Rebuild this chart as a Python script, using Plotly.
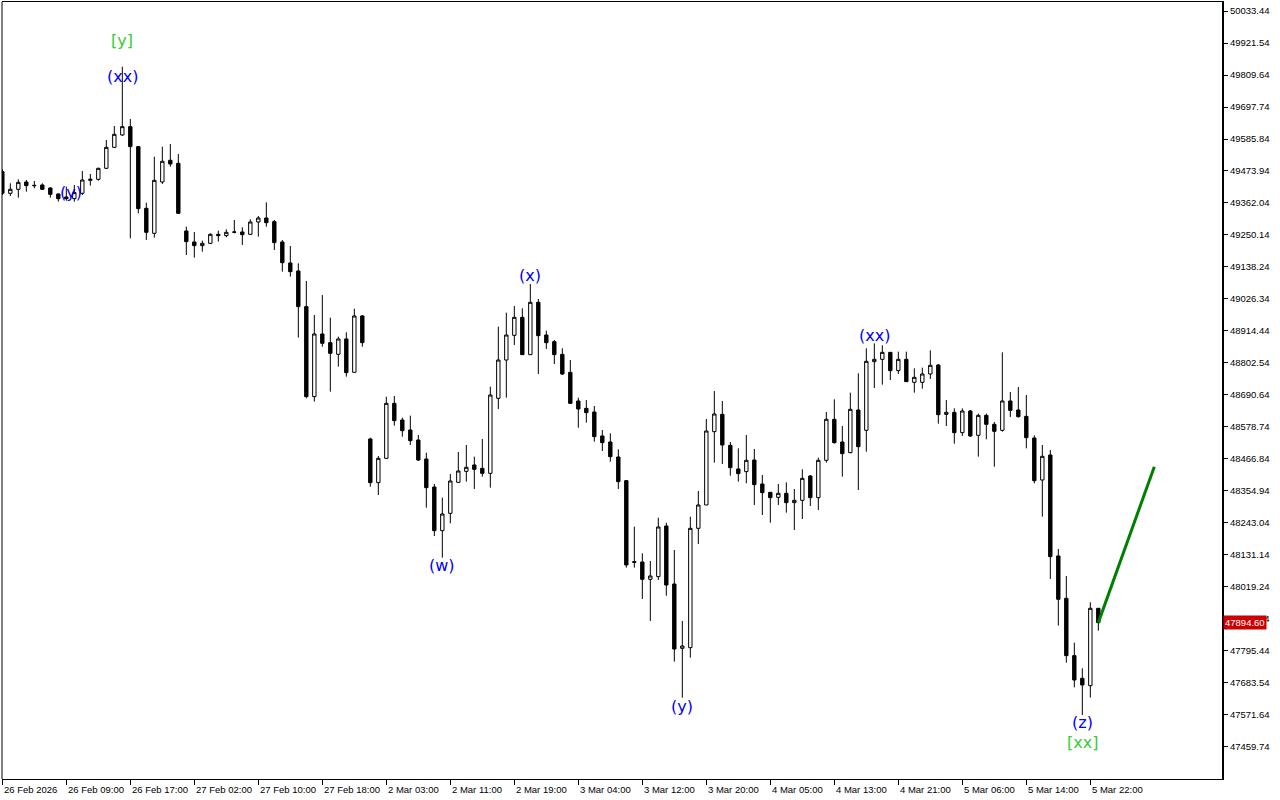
import plotly.graph_objects as go

# ---- data (hourly candles, index-based gapless axis) ----
opens = [49471.7,49395.9,49409.9,49435.5,49423.9,49425.0,49414.5,49393.6,49383.1,49377.2,
         49395.9,49441.3,49444.8,49483.3,49556.7,49599.9,49629.0,49559.1,49343.4,49256.0,
         49435.5,49511.3,49500.8,49264.2,49225.7,49212.9,49221.0,49252.5,49247.9,49259.5,
         49260.7,49252.5,49295.6,49309.6,49296.8,49225.7,49152.3,49124.3,48999.6,48684.9,
         48904.0,48873.7,48832.9,48886.5,48770.0,48967.0,48536.8,48384.1,48469.2,48661.5,
         48603.2,48568.2,48533.3,48466.8,48368.9,48216.2,48276.8,48385.2,48423.7,48445.9,
         48434.2,48416.7,48679.0,48813.0,48899.3,48962.2,48831.7,49014.7,48900.4,48877.1,
         48832.8,48769.9,48669.7,48644.0,48631.2,48547.3,48526.3,48473.8,48391.1,48107.8,
         48106.7,48046.1,48055.4,48232.6,48029.7,47804.8,47807.1,48224.4,48306.0,48562.4,
         48623.0,48514.6,48431.9,48422.6,48463.3,48379.4,48350.3,48332.8,48346.8,48314.2,
         48322.3,48407.4,48331.6,48462.2,48605.6,48526.3,48489.0,48638.2,48567.1,48807.2,
         48815.4,48839.8,48775.7,48815.4,48734.9,48734.9,48764.1,48795.5,48623.0,48630.0,
         48558.9,48634.7,48549.6,48619.5,48588.1,48567.1,48669.7,48638.2,48616.0,48540.3,
         48393.4,48480.9,48127.7,47979.7,47779.2,47699.9,47674.3,47944.7]
highs = [49480.0,49430.9,49444.8,49442.5,49439.0,49430.9,49416.9,49395.9,49419.2,49425.0,
         49474.0,49463.5,49485.6,49582.4,49631.3,49838.8,49655.8,49561.4,49363.3,49524.1,
         49559.1,49568.4,49533.4,49279.3,49260.7,49230.4,49256.0,49265.3,49270.0,49302.6,
         49277.0,49305.0,49316.6,49364.4,49302.6,49232.7,49211.7,49151.1,49089.3,48970.4,
         49040.4,48961.1,48894.7,48909.8,48992.6,48970.4,48541.4,48477.3,48684.8,48687.1,
         48611.4,48618.4,48550.8,48489.0,48379.4,48331.6,48414.4,48491.3,48515.8,48475.0,
         48536.8,48719.8,48929.6,48978.5,49001.8,48993.7,49078.8,49026.3,48915.6,48883.0,
         48853.8,48813.0,48681.3,48673.1,48652.2,48568.2,48556.6,48500.6,48393.4,48230.2,
         48137.0,48110.2,48261.7,48244.2,48148.6,47900.4,48265.2,48354.9,48606.7,48704.6,
         48669.7,48526.3,48504.1,48550.8,48501.8,48410.9,48350.3,48379.4,48385.3,48361.9,
         48430.7,48410.9,48471.5,48631.2,48675.5,48582.2,48698.8,48766.4,48853.8,48871.3,
         48864.3,48839.8,48842.2,48842.2,48783.9,48786.2,48846.8,48799.0,48673.2,48644.0,
         48644.0,48638.2,48625.4,48625.4,48596.2,48839.8,48701.1,48718.6,48690.6,48549.6,
         48515.8,48498.4,48152.2,48057.8,47824.6,47734.9,47965.7,47944.7]
lows = [49390.0,49386.6,49380.7,49401.7,49413.4,49407.5,49380.7,49366.7,49370.2,49366.7,
        49390.0,49422.7,49440.2,49481.0,49554.4,49596.4,49238.5,49326.0,49232.7,49240.9,
        49428.5,49489.1,49323.6,49180.2,49170.9,49191.9,49218.7,49226.9,49242.0,49256.0,
        49215.2,49250.2,49244.4,49279.3,49197.7,49122.0,49104.5,48891.2,48679.0,48667.4,
        48859.7,48702.3,48789.8,48754.8,48770.0,48859.7,48370.1,48340.9,48466.8,48583.4,
        48544.9,48515.8,48459.8,48296.7,48197.6,48121.8,48241.9,48384.1,48387.6,48361.9,
        48405.1,48366.6,48641.7,48681.3,48865.5,48831.7,48831.7,48764.1,48851.5,48799.0,
        48760.6,48659.2,48576.4,48593.9,48527.4,48494.8,48457.5,48361.9,48086.9,48086.9,
        47977.3,47900.4,48043.7,47988.9,47758.2,47632.3,47772.1,48169.6,48306.0,48454.0,
        48449.4,48408.6,48387.6,48381.8,48306.0,48271.0,48244.2,48306.0,48279.2,48218.6,
        48257.0,48302.5,48288.5,48454.0,48520.5,48405.1,48486.7,48358.4,48492.5,48715.1,
        48726.8,48743.1,48764.1,48737.3,48698.8,48712.8,48746.6,48590.4,48582.2,48520.5,
        48547.3,48543.8,48475.0,48535.6,48440.0,48562.4,48613.7,48611.4,48504.1,48381.8,
        48265.2,48047.3,47884.1,47754.7,47668.4,47571.7,47632.3,47866.6]
closes = [49395.9,49409.9,49434.3,49422.7,49422.7,49409.9,49392.4,49377.2,49377.2,49398.2,
          49442.5,49444.8,49483.3,49556.7,49602.2,49629.0,49559.1,49342.3,49259.5,49441.3,
          49507.8,49498.5,49326.0,49226.9,49212.9,49221.0,49252.5,49247.9,49259.5,49260.7,
          49251.3,49295.6,49309.6,49293.3,49223.4,49153.4,49122.0,48999.6,48684.9,48904.0,
          48871.4,48836.4,48886.5,48768.8,48967.0,48873.7,48384.1,48469.2,48661.5,48600.9,
          48565.9,48530.9,48463.3,48366.6,48216.2,48274.5,48389.9,48424.9,48437.7,48430.7,
          48416.7,48690.6,48813.0,48900.4,48962.2,48831.7,49014.7,48898.1,48873.6,48831.7,
          48764.1,48661.5,48641.7,48628.9,48544.9,48524.0,48475.0,48387.6,48096.2,48105.5,
          48046.1,48057.7,48229.1,48026.2,47802.4,47812.9,48224.4,48306.0,48564.7,48624.2,
          48515.8,48436.5,48415.6,48462.2,48377.1,48349.1,48331.6,48346.8,48314.2,48322.3,
          48399.2,48331.6,48462.2,48605.6,48524.0,48485.5,48640.5,48510.0,48808.4,48815.4,
          48839.8,48775.7,48815.4,48737.3,48752.4,48764.1,48794.4,48621.9,48630.0,48558.9,
          48634.7,48547.3,48619.5,48588.1,48563.6,48669.7,48637.0,48614.9,48541.4,48391.1,
          48476.2,48125.4,47976.2,47779.2,47694.1,47676.6,47944.7,47894.6]
bar_index = list(range(len(closes)))

last_price = 47894.60
forecast_x = [137, 144]
forecast_y = [47894.6, 48440.1]

x_tick_pos = [0, 8, 16, 24, 32, 40, 48, 56, 64, 72, 80, 88, 96, 104, 112, 120, 128, 136]
x_tick_labels = ["26 Feb 2026", "26 Feb 09:00", "26 Feb 17:00", "27 Feb 02:00", "27 Feb 10:00",
                 "27 Feb 18:00", "2 Mar 03:00", "2 Mar 11:00", "2 Mar 19:00", "3 Mar 04:00",
                 "3 Mar 12:00", "3 Mar 20:00", "4 Mar 05:00", "4 Mar 13:00", "4 Mar 21:00",
                 "5 Mar 06:00", "5 Mar 14:00", "5 Mar 22:00"]
y_tick_vals = [50033.44, 49921.54, 49809.64, 49697.74, 49585.84, 49473.94, 49362.04, 49250.14,
               49138.24, 49026.34, 48914.44, 48802.54, 48690.64, 48578.74, 48466.84, 48354.94,
               48243.04, 48131.14, 48019.24, 47907.34, 47795.44, 47683.54, 47571.64, 47459.74]

wave_text = ["[y]", "(xx)", "(y)", "(w)", "(x)", "(y)", "(xx)", "(z)", "[xx]"]
wave_x = [15, 15, 8.6, 55, 66, 85, 109, 135, 135]
wave_y = [49932, 49806, 49400, 48093, 49107, 47603, 48900, 47547, 47477]
wave_color = ["#32cd32", "#0000ff", "#0000ff", "#0000ff", "#0000ff", "#0000ff", "#0000ff",
              "#0000ff", "#32cd32"]

fig = go.Figure()
fig.add_trace(go.Candlestick(
    x=bar_index, open=opens, high=highs, low=lows, close=closes,
    increasing=dict(fillcolor="white", line=dict(color="black", width=1)),
    decreasing=dict(fillcolor="black", line=dict(color="black", width=1)),
    whiskerwidth=0, showlegend=False, hoverinfo="skip"))

fig.add_trace(go.Scatter(x=forecast_x, y=forecast_y, mode="lines",
                         line=dict(color="#008000", width=3), showlegend=False,
                         hoverinfo="skip"))

fig.add_hline(y=last_price, line=dict(color="#a01010", width=1))

ann = []
for t, xv, yv, c in zip(wave_text, wave_x, wave_y, wave_color):
    ann.append(dict(x=xv, y=yv, xref="x", yref="y", text=t, showarrow=False,
                    font=dict(family="DejaVu Sans", size=16, color=c)))
for pos, lab in zip(x_tick_pos, x_tick_labels):
    ann.append(dict(x=pos, y=0, xref="x", yref="paper", text=lab, showarrow=False,
                    xanchor="left", yanchor="middle", yshift=-10, xshift=0,
                    font=dict(family="Liberation Sans", size=9.5, color="black")))
ann.append(dict(x=1, y=last_price, xref="paper", yref="y", text="%.2f" % last_price,
                showarrow=False, xanchor="left", yanchor="middle", xshift=1,
                bgcolor="#cc0000", borderpad=1,
                font=dict(family="Liberation Sans", size=9.5, color="white")))

fig.update_layout(
    width=1280, height=800,
    margin=dict(l=2, r=58, t=2, b=21),
    paper_bgcolor="white", plot_bgcolor="white",
    boxgap=0.4,
    annotations=ann,
    xaxis=dict(range=[-0.04, 152.46], rangeslider=dict(visible=False),
               tickvals=x_tick_pos, showticklabels=False, ticks="outside", ticklen=5,
               tickcolor="black", showline=True, linecolor="black", linewidth=1,
               mirror=True, showgrid=False, zeroline=False),
    yaxis=dict(range=[47347.8, 50064.9], side="right", tickvals=y_tick_vals,
               ticktext=["%.2f" % v for v in y_tick_vals], ticks="outside", ticklen=4,
               tickcolor="black", showline=True, linecolor="black", linewidth=2,
               showgrid=False, zeroline=False,
               tickfont=dict(family="Liberation Sans", size=9.5, color="black")),
    shapes=[dict(type="line", xref="paper", yref="paper", x0=0, x1=0, y0=0, y1=1,
                 line=dict(color="black", width=1))],
)

fig.write_html("out.html", config={"displayModeBar": False},
               post_script="document.body.style.margin='0';document.body.style.padding='0';")
